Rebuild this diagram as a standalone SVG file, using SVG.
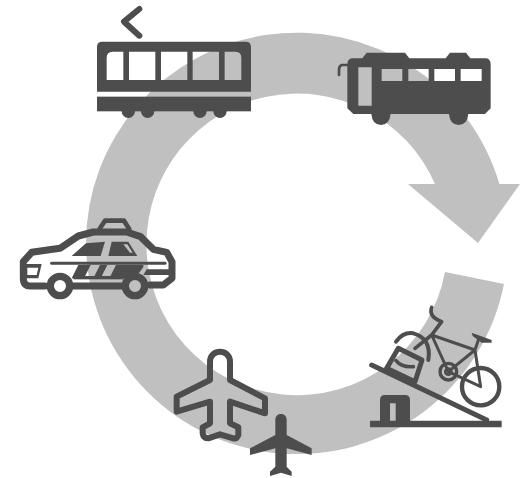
<svg xmlns="http://www.w3.org/2000/svg" width="520" height="478" viewBox="0 0 520 478">
<style>
.d{fill:#4d4d4d;fill-rule:evenodd}
.s{fill:none;stroke:#4d4d4d;stroke-linecap:round;stroke-linejoin:round}
</style>
<rect width="520" height="478" fill="#fff"/>
<g id="cycle"><path fill="#c0c0c0" d="M504 284A211 211 0 0 1 86 243.500A211 211 0 0 1 499.400 184L520 184L478 243L408 184L435 184A150.500 150.500 0 0 0 146.500 243.500A150.500 150.500 0 0 0 445 272Z"/></g>
<g id="tram" transform="translate(80 0) scale(.3333)">
<path class="d" d="M67 125H497Q513 125 513 141V275H51V141Q51 125 67 125ZM80 240H130V155H98Q80 155 80 173ZM147 240H226V155H147ZM243 240H322V155H243ZM338 240H417V155H338ZM434 240H484V173Q484 155 466 155H434Z"/>
<rect class="d" x="51" y="290" width="462" height="44"/>
<circle class="d" cx="145" cy="334" r="20"/><circle class="d" cx="203" cy="334" r="20"/><circle class="d" cx="360" cy="334" r="20"/><circle class="d" cx="420" cy="334" r="20"/>
<path class="s" stroke-width="18" d="M178 27L132 65L178 107"/>
</g>
<g id="bus" transform="translate(330 40) scale(.3333)">
<path class="d" d="M70 55H97L110 38H225L238 55H347L360 38H408L421 55H465Q482 55 482 72V205L465 222H415Q412 255 386 255Q360 255 357 222H182Q178 255 153 255Q127 255 124 222H70L52 205V72Q52 55 70 55ZM85 82V197H125V82ZM155 87V123H217V87ZM235 87V123H296V87ZM313 87V123H375V87ZM392 87V123H455V87Z"/>
<path class="s" stroke-width="8" d="M55 75H35Q27 78 27 90V105"/>
</g>
<g id="taxi" transform="translate(10 210) scale(.3333)">
<path class="s" stroke-width="21" d="M105 228H60Q40 228 40 205V155L65 127L150 115L205 78L250 66H350L392 80L430 118L470 127L486 155V205L460 225H420M190 228H335"/>
<path class="s" stroke-width="14" d="M268 58L285 32H342L358 58"/>
<path class="d" d="M185 138L228 100L285 95L272 138ZM295 138L305 95L355 95L382 138ZM340 103L360 128L368 128L352 103Z"/>
<path class="s" stroke-width="9" d="M125 160H465"/>
<path class="d" d="M30 162H95L85 205H30ZM52 173V195H80L85 173ZM205 165H242L222 205H185ZM270 165H292L272 205H250ZM318 165H400V172L375 205H298ZM410 178H490V195H400Z"/>
<rect class="d" x="190" y="198" width="150" height="10"/>
<circle cx="150" cy="228" r="29" class="s" stroke-width="22"/>
<circle cx="375" cy="228" r="29" class="s" stroke-width="22"/>
</g>
<g id="bicycle" transform="translate(360 300) scale(.3333)">
<path class="s" stroke-width="15" d="M35 195L380 360"/>
<path class="d" d="M30 362H425V382H30ZM60 362V300Q60 285 75 285H135Q150 285 150 300V362H107V310H90V362Z"/>
<path class="s" stroke-width="15" d="M115 145L186 180L165 245L80 205Z"/>
<path class="s" stroke-width="11" d="M108 182Q125 203 160 200"/>
<circle cx="362" cy="260" r="56" class="s" stroke-width="13"/>
<circle cx="265" cy="215" r="25" class="s" stroke-width="10"/>
<circle cx="265" cy="215" r="9" class="s" stroke-width="8"/>
<path class="s" stroke-width="9" d="M215 105L265 215L345 150L215 105M265 215L362 260L345 150L355 120"/>
<path class="s" stroke-width="11" d="M215 22Q205 50 245 65L215 105L165 145"/>
<path class="s" stroke-width="12" d="M108 125Q130 95 160 100Q215 115 205 180"/>
<path class="d" d="M335 98L395 120V128H365L338 108Z"/>
</g>
<g id="plane-outline" transform="translate(165 340) scale(.3333)">
<path class="s" stroke-width="18" d="M135 120V65C135 25 195 25 195 65V120L300 175V220L195 185V250L220 262V285Q215 298 205 295L165 283L130 295Q115 295 113 280V262L135 250V185L35 215V170Z"/>
</g>
<g id="plane-solid" transform="translate(165 340) scale(.3333)">
<path class="d" d="M331 285V240C331 216 365 216 365 240V285L440 325V345L365 325V380L380 395V408L348 398L315 408V395L331 380V325L255 345V325Z"/>
</g>
</svg>
